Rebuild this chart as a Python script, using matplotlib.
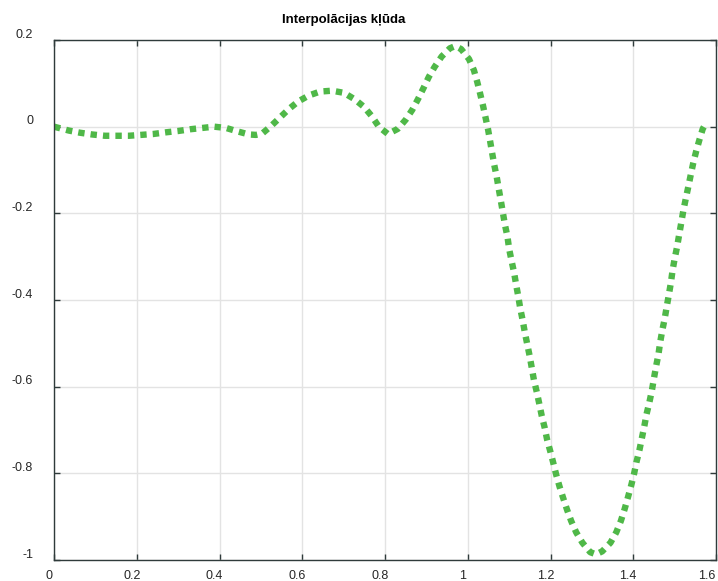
import matplotlib
matplotlib.use("Agg")
import matplotlib.pyplot as plt
import matplotlib.transforms as mtransforms
import numpy as np

plt.rcParams['font.family'] = ['Liberation Sans', 'DejaVu Sans']
plt.rcParams['axes.unicode_minus'] = False

# interpolācijas kļūda uz [0, pi/2]
x = [0.000, 0.036, 0.063, 0.092, 0.123, 0.152, 0.181, 0.210, 0.239, 0.271,
     0.300, 0.329, 0.358, 0.387, 0.416, 0.444, 0.471, 0.488, 0.503, 0.524,
     0.546, 0.568, 0.590, 0.616, 0.643, 0.672, 0.701, 0.727, 0.750, 0.769,
     0.785, 0.807, 0.831, 0.850, 0.866, 0.880, 0.893, 0.906, 0.920, 0.937,
     0.957, 0.970, 0.984, 1.003, 1.015, 1.023, 1.030, 1.037, 1.043, 1.049,
     1.054, 1.059, 1.064, 1.070, 1.075, 1.080, 1.085, 1.090, 1.096, 1.100,
     1.106, 1.112, 1.117, 1.122, 1.127, 1.133, 1.138, 1.144, 1.150, 1.155,
     1.160, 1.167, 1.173, 1.179, 1.186, 1.192, 1.200, 1.207, 1.214, 1.222,
     1.231, 1.240, 1.250, 1.262, 1.277, 1.296, 1.310, 1.325, 1.345, 1.359,
     1.370, 1.379, 1.387, 1.395, 1.402, 1.408, 1.415, 1.421, 1.427, 1.432,
     1.439, 1.445, 1.450, 1.455, 1.461, 1.465, 1.470, 1.476, 1.481, 1.486,
     1.491, 1.495, 1.500, 1.506, 1.511, 1.516, 1.521, 1.527, 1.533, 1.539,
     1.545, 1.552, 1.560, 1.568, 1.571]
err = [0.000, -0.009, -0.014, -0.018, -0.021, -0.021, -0.021, -0.019, -0.017, -0.013,
       -0.010, -0.006, -0.003, 0.000, -0.003, -0.011, -0.018, -0.019, -0.016, 0.001,
       0.021, 0.041, 0.058, 0.072, 0.081, 0.083, 0.078, 0.063, 0.045, 0.023,
       0.000, -0.017, -0.005, 0.016, 0.039, 0.064, 0.089, 0.115, 0.138, 0.162,
       0.181, 0.186, 0.179, 0.156, 0.130, 0.103, 0.076, 0.048, 0.021, -0.006,
       -0.033, -0.061, -0.088, -0.116, -0.144, -0.171, -0.199, -0.227, -0.254, -0.282,
       -0.310, -0.337, -0.365, -0.391, -0.420, -0.448, -0.475, -0.503, -0.531, -0.558,
       -0.585, -0.613, -0.640, -0.668, -0.695, -0.723, -0.751, -0.777, -0.804, -0.831,
       -0.858, -0.884, -0.910, -0.936, -0.960, -0.982, -0.987, -0.980, -0.960, -0.936,
       -0.910, -0.883, -0.856, -0.828, -0.801, -0.773, -0.746, -0.718, -0.690, -0.664,
       -0.636, -0.609, -0.581, -0.554, -0.525, -0.498, -0.471, -0.443, -0.415, -0.388,
       -0.360, -0.332, -0.305, -0.277, -0.249, -0.222, -0.194, -0.166, -0.139, -0.111,
       -0.084, -0.057, -0.030, -0.005, 0.000]

xticks = [0, 0.2, 0.4, 0.6, 0.8, 1.0, 1.2, 1.4, 1.6]
xticklabels = ['0', '0.2', '0.4', '0.6', '0.8', '1', '1.2', '1.4', '1.6']
yticks = [0.2, 0, -0.2, -0.4, -0.6, -0.8, -1.0]
yticklabels = ['0.2', '0', '-0.2', '-0.4', '-0.6', '-0.8', '-1']

fig = plt.figure(figsize=(7.18, 5.81), dpi=100)
ax = fig.add_axes([54/718, 21/581, 662/718, 520/581])

ax.plot(x, err, color='#4fb848', linewidth=4.6, linestyle=(0, (1, 0.95)),
        dash_capstyle='butt')

ax.set_xlim(0, 1.6)
ax.set_ylim(-1, 0.2)
ax.set_xticks(xticks)
ax.set_xticklabels(xticklabels)
ax.set_yticks(yticks)
ax.set_yticklabels(yticklabels)
ax.grid(True, color='#e3e3e3', linewidth=1.0)
ax.set_axisbelow(True)

ax.tick_params(direction='in', length=4.5, width=1, color='#2f3b3b',
               top=True, right=True, labelsize=9, labelcolor='#262626')
ax.tick_params(axis='x', pad=7)
ax.tick_params(axis='y', pad=15)
for s in ax.spines.values():
    s.set_color('#2f3b3b')
    s.set_linewidth(1.0)

# nobīda ass uzrakstus; pēdējo mazliet vairāk, lai neiziet ārā no attēla
xlabs = ax.get_xticklabels()
for i, lab in enumerate(xlabs):
    shift = -9 if i == len(xlabs) - 1 else -5
    dx = mtransforms.ScaledTranslation(shift/100, 0, fig.dpi_scale_trans)
    lab.set_transform(lab.get_transform() + dx)
dy = mtransforms.ScaledTranslation(0, 7/100, fig.dpi_scale_trans)
for lab in ax.get_yticklabels():
    lab.set_transform(lab.get_transform() + dy)

ax.set_title('Interpolācijas kļūda', fontsize=9.5, fontweight='bold',
             pad=12.5, x=(344 - 54) / 662)

fig.savefig('out.png', dpi=100)
